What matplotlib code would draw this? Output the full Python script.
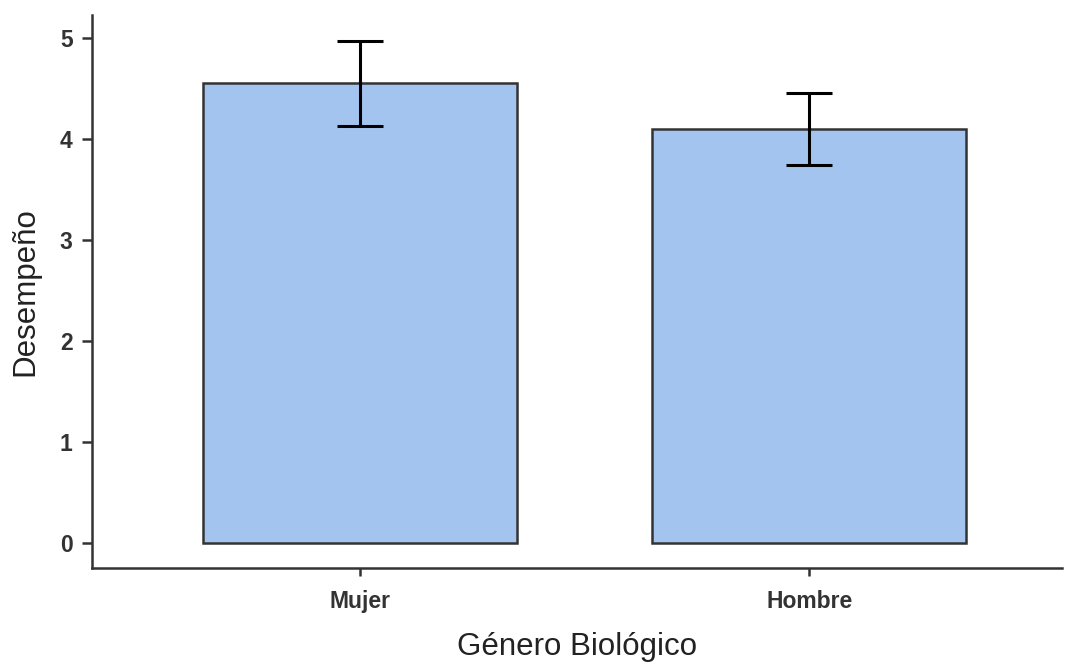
import matplotlib
matplotlib.use('Agg')
import matplotlib.pyplot as plt

# mean performance by gender, with error bar limits
categorias = ['Mujer', 'Hombre']
medias = [4.55, 4.10]
err_sup = [4.97, 4.455]
err_inf = [4.125, 3.74]

plt.rcParams['font.family'] = ['Liberation Sans', 'DejaVu Sans']

fig = plt.figure(figsize=(10.68, 6.62), dpi=100)
ax = fig.add_axes([0.0861, 0.1424, 0.9083, 0.8349])

x = list(range(len(categorias)))
yerr = [[m - lo for m, lo in zip(medias, err_inf)],
        [hi - m for m, hi in zip(medias, err_sup)]]

ax.bar(x, medias, width=0.70, color='#a4c4f0', edgecolor='#333333', linewidth=1.8, zorder=2)
ax.errorbar(x, medias, yerr=yerr, fmt='none', ecolor='black', elinewidth=2.2,
            capsize=16.5, capthick=2.2, zorder=3)

ax.set_xlim(-0.597, 1.563)
ax.set_ylim(-0.247, 5.225)
ax.set_yticks([0, 1, 2, 3, 4, 5])
ax.set_xticks(x)
ax.set_xticklabels(categorias)

for s in ['top', 'right']:
    ax.spines[s].set_visible(False)
for s in ['left', 'bottom']:
    ax.spines[s].set_color('#333333')
    ax.spines[s].set_linewidth(1.8)

ax.tick_params(axis='both', colors='#333333', length=6, width=1.8, labelsize=16.5, pad=10)
ax.tick_params(axis='y', length=7, pad=7)
for lab in ax.get_xticklabels() + ax.get_yticklabels():
    lab.set_fontweight('bold')

ax.set_xlabel('Género Biológico', fontsize=22.5, color='#222222', labelpad=14)
ax.set_ylabel('Desempeño', fontsize=22.5, color='#222222', labelpad=14)

fig.savefig('out.png', dpi=100)
